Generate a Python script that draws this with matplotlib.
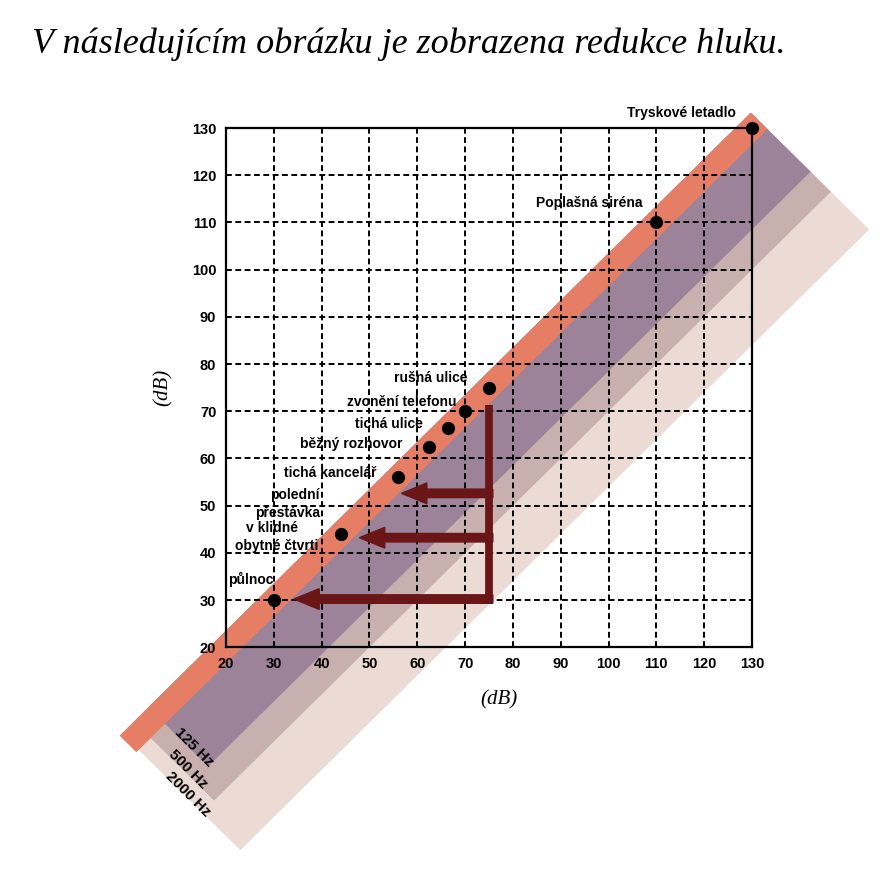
import matplotlib
matplotlib.use("Agg")
import matplotlib.pyplot as plt
from matplotlib.patches import Polygon


TITLE = "V následujícím obrázku je zobrazena redukce hluku."

# noise sources, all sitting on the level line (dB)
DOT_DB = [30, 44, 56, 62.5, 66.5, 70, 75, 110, 130]

# labels next to the sources: text, x, y, alignment
LABELS = [
    ("Tryskové letadlo", 126.6, 133.2, "right"),
    ("Poplašná siréna", 107.2, 114.1, "right"),
    ("rušná ulice", 70.6, 77.0, "right"),
    ("zvonění telefonu", 68.3, 72.0, "right"),
    ("tichá ulice", 61.2, 67.3, "right"),
    ("běžný rozhovor", 57.0, 63.0, "right"),
    ("tichá kancelář", 51.5, 57.0, "right"),
    ("polední", 34.4, 52.2, "center"),
    ("přestávka", 32.8, 48.4, "center"),
    ("v klidné", 29.7, 45.2, "center"),
    ("obytné čtvrti", 30.6, 41.4, "center"),
    ("půlnoc", 20.4, 34.4, "left"),
]

# reduction arrows, starting from 75 dB
ARROW_FROM = 75
ARROW_TOP = 71.3
ARROW_Y = [52.6, 43.2, 30.2]
ARROW_TIP = [56.7, 47.9, 34.2]

# frequency bands below the level line
BAND_NAMES = ["125 Hz", "500 Hz", "2000 Hz"]
BAND_DROP = [21.5, 30, 46]
BAND_START = [5.5, 2.5, 0]
BAND_LABEL_POS = [(13.3, -1.1), (12.1, -5.9), (12.1, -11.1)]
LINE_HALF = 3.5
LINE_START = -0.5
LINE_END = 131.5

TICKS = list(range(20, 131, 10))

BAND_COLORS = ["#9c8399", "#c8b0ae", "#ecdbd5"]
LINE_COLOR = "#e57e64"
ARROW_COLOR = "#6a1616"


def band_polygon(d_lo, d_hi, start, end, color, zorder):
    # s = x + y runs along the line, d = y - x across it
    s0, s1 = 2 * start, 2 * end
    corners = [(s0, d_hi), (s1, d_hi), (s1, d_lo), (s0, d_lo)]
    xy = [((s - d) / 2, (s + d) / 2) for s, d in corners]
    return Polygon(xy, closed=True, facecolor=color, edgecolor="none",
                   clip_on=False, zorder=zorder)


fig = plt.figure(figsize=(8.87, 8.74), dpi=100)
ax = fig.add_axes([0.2548, 0.2595, 0.593, 0.594])

# widest band first so the narrower ones sit on top
for i in reversed(range(len(BAND_NAMES))):
    ax.add_patch(band_polygon(-BAND_DROP[i], LINE_HALF, BAND_START[i], LINE_END,
                              BAND_COLORS[i], 0.3 + 0.1 * (2 - i)))
ax.add_patch(band_polygon(-LINE_HALF, LINE_HALF, LINE_START, LINE_END, LINE_COLOR, 0.7))

for name, (bx, by) in zip(BAND_NAMES, BAND_LABEL_POS):
    ax.text(bx, by, name, rotation=-45, ha="center", va="center", fontsize=11,
            fontweight="bold", family="Liberation Sans", rotation_mode="anchor")

ax.set_xlim(20, 130)
ax.set_ylim(20, 130)
ax.set_xticks(TICKS)
ax.set_yticks(TICKS)
ax.set_axisbelow("line")
ax.grid(True, color="black", linestyle=(0, (3, 1.8)), linewidth=1.4)
ax.tick_params(length=0, pad=7)
for lab in ax.get_xticklabels() + ax.get_yticklabels():
    lab.set_fontsize(10.5)
    lab.set_fontweight("bold")
    lab.set_family("Liberation Sans")
for sp in ax.spines.values():
    sp.set_linewidth(1.6)
    sp.set_zorder(2.5)

ax.set_xlabel("(dB)", family="Liberation Serif", style="italic", fontsize=15)
ax.set_ylabel("(dB)", family="Liberation Serif", style="italic", fontsize=15)
ax.xaxis.set_label_coords(0.518, -0.082)
ax.yaxis.set_label_coords(-0.102, 0.5)

ax.plot(DOT_DB, DOT_DB, "o", color="black", markersize=8.5, zorder=4, clip_on=False)

for text, tx, ty, ha in LABELS:
    ax.text(tx, ty, text, ha=ha, va="center", fontsize=10, fontweight="bold",
            family="Liberation Sans", zorder=5)

ax.plot([ARROW_FROM, ARROW_FROM], [ARROW_Y[-1] - 0.9, ARROW_TOP], color=ARROW_COLOR,
        lw=5.6, solid_capstyle="butt", zorder=3)
for ay, tip in zip(ARROW_Y, ARROW_TIP):
    ax.arrow(ARROW_FROM + 0.8, ay, tip - ARROW_FROM - 0.8, 0, width=1.8,
             head_width=4.4, head_length=5.3, length_includes_head=True,
             color=ARROW_COLOR, zorder=3)

fig.text(0.036, 0.939, TITLE, family="Liberation Serif", style="italic",
         fontsize=26, va="baseline")

fig.savefig("out.png", dpi=100, facecolor="white")
